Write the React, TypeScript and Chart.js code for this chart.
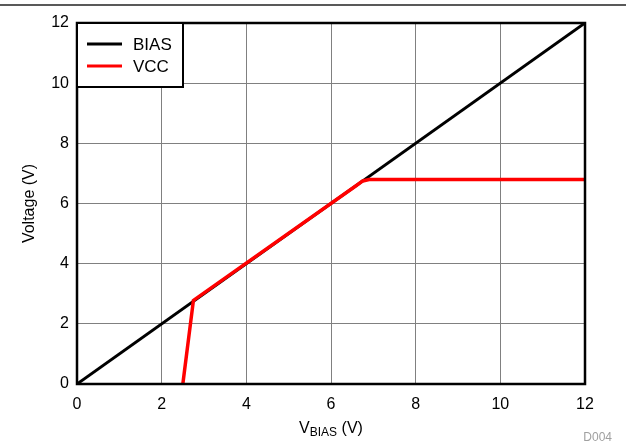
import React, { useEffect, useRef } from "react";
import { Chart, registerables } from "chart.js";

Chart.register(...registerables);

const biasX = [0, 12];
const biasY = [0, 12];
const vccX = [2.5, 2.75, 6.6, 6.75, 6.9, 7.05, 12];
const vccY = [0, 2.78, 6.6, 6.75, 6.8, 6.8, 6.8];
const seriesNames = ["BIAS", "VCC"];
const xTicks = [0, 2, 4, 6, 8, 10, 12];
const yTicks = [0, 2, 4, 6, 8, 10, 12];

const FONT = "'Liberation Sans', Arial, sans-serif";

const decorPlugin = {
  id: "decor",
  afterDraw(chart: any) {
    const { ctx, chartArea: a } = chart;
    ctx.save();
    // top rule
    ctx.strokeStyle = "#222";
    ctx.lineWidth = 1.5;
    ctx.beginPath();
    ctx.moveTo(0, 5);
    ctx.lineTo(chart.width, 5);
    ctx.stroke();
    // frame
    ctx.strokeStyle = "#000";
    ctx.lineWidth = 2.5;
    ctx.strokeRect(a.left, a.top, a.right - a.left, a.bottom - a.top);
    // legend box
    const lx = a.left, ly = a.top, lw = 106, lh = 64;
    ctx.fillStyle = "#fff";
    ctx.fillRect(lx, ly, lw, lh);
    ctx.lineWidth = 2;
    ctx.strokeRect(lx, ly, lw, lh);
    const colors = ["#000", "#ff0000"];
    ctx.font = `17px ${FONT}`;
    ctx.textBaseline = "middle";
    ctx.textAlign = "left";
    seriesNames.forEach((n, i) => {
      const y = ly + 21 + i * 22;
      ctx.strokeStyle = colors[i];
      ctx.lineWidth = 3;
      ctx.beginPath();
      ctx.moveTo(lx + 10, y);
      ctx.lineTo(lx + 45, y);
      ctx.stroke();
      ctx.fillStyle = "#000";
      ctx.fillText(n, lx + 56, y + 1);
    });
    // y title
    ctx.save();
    ctx.translate(30, (a.top + a.bottom) / 2);
    ctx.rotate(-Math.PI / 2);
    ctx.textAlign = "center";
    ctx.textBaseline = "middle";
    ctx.font = `16px ${FONT}`;
    ctx.fillStyle = "#000";
    ctx.fillText("Voltage (V)", 0, 0);
    ctx.restore();
    // x title with subscript
    const cx = (a.left + a.right) / 2;
    const base = 433;
    ctx.fillStyle = "#000";
    ctx.textBaseline = "alphabetic";
    ctx.textAlign = "left";
    ctx.font = `16px ${FONT}`;
    const w1 = ctx.measureText("V").width;
    const w3 = ctx.measureText(" (V)").width;
    ctx.font = `12px ${FONT}`;
    const w2 = ctx.measureText("BIAS").width;
    let x0 = cx - (w1 + w2 + w3) / 2;
    ctx.font = `16px ${FONT}`;
    ctx.fillText("V", x0, base);
    ctx.font = `12px ${FONT}`;
    ctx.fillText("BIAS", x0 + w1, base + 3);
    ctx.font = `16px ${FONT}`;
    ctx.fillText(" (V)", x0 + w1 + w2, base);
    // D004
    ctx.font = `12px ${FONT}`;
    ctx.fillStyle = "#a0a0a0";
    ctx.textAlign = "right";
    ctx.fillText("D004", 612, 441);
    ctx.restore();
  },
};

export default function App() {
  const ref = useRef<HTMLCanvasElement>(null);
  useEffect(() => {
    if (!ref.current) return;
    const chart = new Chart(ref.current, {
      type: "line",
      data: {
        datasets: [
          {
            label: seriesNames[0],
            data: biasX.map((x, i) => ({ x, y: biasY[i] })),
            borderColor: "#000",
            borderWidth: 3,
            pointRadius: 0,
            order: 2,
          },
          {
            label: seriesNames[1],
            data: vccX.map((x, i) => ({ x, y: vccY[i] })),
            borderColor: "#ff0000",
            borderWidth: 3.5,
            pointRadius: 0,
            order: 1,
          },
        ],
      },
      options: {
        animation: false,
        responsive: false,
        devicePixelRatio: 1,
        layout: { padding: { left: 0, top: 23, right: 41, bottom: 0 } },
        plugins: { legend: { display: false }, tooltip: { enabled: false } },
        scales: {
          x: {
            type: "linear",
            min: 0,
            max: 12,
            afterBuildTicks: (s: any) => {
              s.ticks = xTicks.map((v) => ({ value: v }));
            },
            afterFit: (s: any) => {
              s.height = 60;
            },
            ticks: { font: { size: 16, family: FONT }, color: "#000", padding: 11 },
            grid: { color: "#808080", lineWidth: 1, drawTicks: false },
            border: { display: false },
          },
          y: {
            type: "linear",
            min: 0,
            max: 12,
            afterBuildTicks: (s: any) => {
              s.ticks = yTicks.map((v) => ({ value: v }));
            },
            afterFit: (s: any) => {
              s.width = 77;
            },
            ticks: { font: { size: 16, family: FONT }, color: "#000", padding: 8 },
            grid: { color: "#808080", lineWidth: 1, drawTicks: false },
            border: { display: false },
          },
        },
      },
      plugins: [decorPlugin],
    });
    return () => chart.destroy();
  }, []);
  return (
    <div style={{ position: "fixed", left: 0, top: 0, width: 626, height: 444, background: "#fff" }}>
      <canvas ref={ref} width={626} height={444} />
    </div>
  );
}
